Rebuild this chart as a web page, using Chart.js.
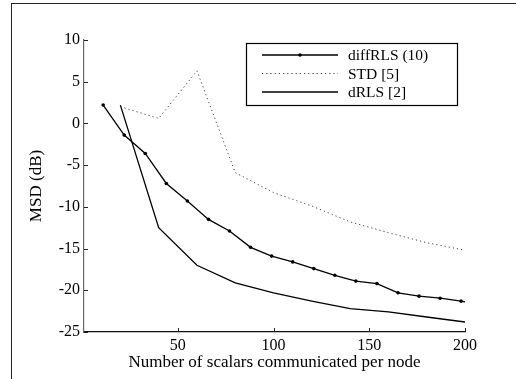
<!DOCTYPE html>
<html>
<head>
<meta charset="utf-8">
<script src="https://cdn.jsdelivr.net/npm/chart.js@4/dist/chart.umd.min.js"></script>
<style>
  html, body { margin: 0; padding: 0; background: #fff; }
  #wrap { position: relative; width: 516px; height: 379px; overflow: hidden; }
  #frame-top { position: absolute; left: 12px; top: 3px; width: 504px; height: 0; border-top: 1.5px solid #222; }
  #frame-left { position: absolute; left: 11px; top: 3px; width: 0; height: 376px; border-left: 1.5px solid #222; }
  canvas { position: absolute; left: 0; top: 0; }
</style>
</head>
<body>
<div id="wrap">
  <canvas id="msd-chart" width="516" height="379"></canvas>
  <div id="frame-top"></div>
  <div id="frame-left"></div>
</div>
<script>
'use strict';

// values
const diffX = [11, 22, 33, 44, 55, 66, 77, 88, 99, 110, 121, 132, 143, 154, 165, 176, 187, 198, 200];
const diffY = [2.2, -1.4, -3.6, -7.2, -9.3, -11.5, -12.9, -14.85, -15.9, -16.6, -17.4, -18.2, -18.9, -19.2, -20.3, -20.7, -20.95, -21.3, -21.4];
const stdX = [20, 40, 60, 80, 100, 120, 140, 160, 180, 200];
const stdY = [2.0, 0.6, 6.3, -5.9, -8.3, -9.9, -11.8, -13.1, -14.3, -15.2];
const drlsX = [20, 40, 60, 80, 100, 120, 140, 160, 180, 200];
const drlsY = [2.2, -12.5, -17.0, -19.1, -20.3, -21.3, -22.2, -22.6, -23.2, -23.8];
const seriesNames = ['diffRLS (10)', 'STD [5]', 'dRLS [2]'];
const xTicks = [50, 100, 150, 200];
const yTicks = [-25, -20, -15, -10, -5, 0, 5, 10];

const FONT = 'Liberation Serif, Times New Roman, serif';

function toPoints(xs, ys) {
  return xs.map((x, i) => ({ x, y: ys[i] }));
}

// MATLAB style ticks that point into the plot
const inwardTicks = {
  id: 'inwardTicks',
  afterDraw(chart) {
    const { ctx, chartArea, scales } = chart;
    ctx.save();
    ctx.strokeStyle = '#222';
    ctx.lineWidth = 1;
    ctx.beginPath();
    xTicks.forEach(v => {
      const px = Math.round(scales.x.getPixelForValue(v)) + 0.5;
      ctx.moveTo(px, chartArea.bottom);
      ctx.lineTo(px, chartArea.bottom - 4);
    });
    yTicks.forEach(v => {
      const py = Math.round(scales.y.getPixelForValue(v)) + 0.5;
      ctx.moveTo(chartArea.left, py);
      ctx.lineTo(chartArea.left + 4, py);
    });
    ctx.stroke();
    ctx.restore();
  }
};

// boxed legend inside the axes, upper right
const boxLegend = {
  id: 'boxLegend',
  afterDraw(chart) {
    const { ctx } = chart;
    const bx = 246.5, by = 43.5, bw = 211, bh = 62;
    ctx.save();
    ctx.fillStyle = '#fff';
    ctx.fillRect(bx, by, bw, bh);
    ctx.strokeStyle = '#000';
    ctx.lineWidth = 1.2;
    ctx.strokeRect(bx, by, bw, bh);
    ctx.font = '15.5px ' + FONT;
    ctx.textBaseline = 'middle';
    ctx.textAlign = 'left';
    chart.data.datasets.forEach((ds, i) => {
      const y = 55 + i * 18.5;
      ctx.beginPath();
      ctx.strokeStyle = ds.borderColor;
      ctx.lineWidth = ds.borderWidth;
      ctx.setLineDash(ds.borderDash || []);
      ctx.moveTo(262, y);
      ctx.lineTo(338, y);
      ctx.stroke();
      ctx.setLineDash([]);
      if (i === 0) {
        ctx.beginPath();
        ctx.fillStyle = '#000';
        ctx.arc(300, y, 1.8, 0, Math.PI * 2);
        ctx.fill();
      }
      ctx.fillStyle = '#000';
      ctx.fillText(ds.label, 348, y + 1);
    });
    ctx.restore();
  }
};

const ctx = document.getElementById('msd-chart').getContext('2d');
new Chart(ctx, {
  type: 'line',
  data: {
    datasets: [
      {
        label: seriesNames[0],
        data: toPoints(diffX, diffY),
        borderColor: '#000',
        borderWidth: 1.3,
        pointRadius: diffX.map((x, i) => i === diffX.length - 1 ? 0 : 1.8),
        pointBackgroundColor: '#000',
        pointBorderWidth: 0,
        tension: 0,
      },
      {
        label: seriesNames[1],
        data: toPoints(stdX, stdY),
        borderColor: '#444',
        borderWidth: 1,
        borderDash: [1.2, 3],
        pointRadius: 0,
        tension: 0,
      },
      {
        label: seriesNames[2],
        data: toPoints(drlsX, drlsY),
        borderColor: '#000',
        borderWidth: 1.3,
        pointRadius: 0,
        tension: 0,
      },
    ],
  },
  options: {
    responsive: false,
    animation: false,
    events: [],
    layout: { padding: { left: 22, top: 40, right: 51, bottom: 2 } },
    plugins: { legend: { display: false }, tooltip: { enabled: false } },
    scales: {
      x: {
        type: 'linear',
        min: 1,
        max: 200,
        afterBuildTicks: s => { s.ticks = xTicks.map(v => ({ value: v })); },
        afterFit: s => { s.height = 45; },
        grid: { display: false, drawTicks: false },
        border: { display: true, color: '#111', width: 1.2 },
        ticks: { color: '#000', padding: 4, font: { family: FONT, size: 16 }, maxRotation: 0 },
        title: { display: true, text: 'Number of scalars communicated per node', color: '#000', font: { family: FONT, size: 17 }, padding: { top: 0, bottom: 4 } },
      },
      y: {
        type: 'linear',
        min: -25,
        max: 10,
        afterBuildTicks: s => { s.ticks = yTicks.map(v => ({ value: v })); },
        afterFit: s => { s.width = 62; },
        grid: { display: false, drawTicks: false },
        border: { display: true, color: '#666', width: 1.2 },
        ticks: { color: '#000', padding: 4, font: { family: FONT, size: 16 } },
        title: { display: true, text: 'MSD (dB)', color: '#000', font: { family: FONT, size: 17 }, padding: { top: 4, bottom: 0 } },
      },
    },
  },
  plugins: [inwardTicks, boxLegend],
});
</script>
</body>
</html>
